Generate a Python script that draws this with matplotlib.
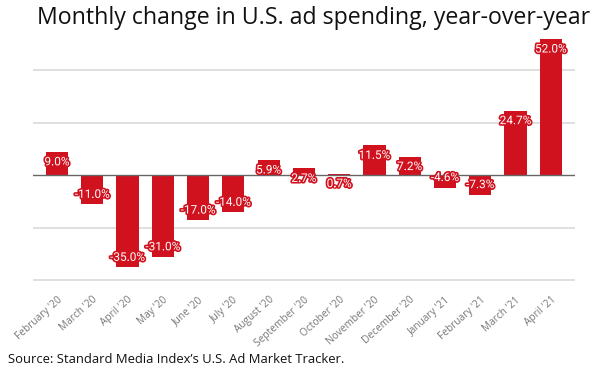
import matplotlib
matplotlib.use("Agg")
import matplotlib.pyplot as plt
import matplotlib.patheffects as pe

months = ["February '20", "March '20", "April '20", "May '20", "June '20",
          "July '20", "August '20", "September '20", "October '20",
          "November '20", "December '20", "January '21", "February '21",
          "March '21", "April '21"]
change = [9.0, -11.0, -35.0, -31.0, -17.0, -14.0, 5.9, 2.7, 0.7,
          11.5, 7.2, -4.6, -7.3, 24.7, 52.0]
grid_vals = [-40, -20, 20, 40]

RED = "#d0121f"

fig = plt.figure(figsize=(6, 3.75), dpi=100)
ax = fig.add_axes([0.055, 0.248, 0.903, 0.669])

x = list(range(len(months)))
ax.bar(x, change, width=0.63, color=RED, zorder=3)

for g in grid_vals:
    ax.axhline(g, color="#d9d9d9", lw=1.2, zorder=1)
ax.axhline(0, color="#666666", lw=1, zorder=4)

# value labels sit just inside the end of each bar
for xi, v in zip(x, change):
    off = -10 if v >= 0 else 10
    ax.annotate(f"{v:.1f}%", xy=(xi, v), xytext=(0, off),
                textcoords="offset pixels", ha="center", va="center",
                fontsize=8.5, family="Roboto", color="white", zorder=5,
                path_effects=[pe.withStroke(linewidth=2.4, foreground=RED)])

ax.set_xlim(-0.68, len(months) - 0.32)
ax.set_ylim(-40.6, 55)
ax.set_yticks([])
ax.set_xticks(x)
ax.set_xticklabels(months, rotation=42, ha="right", rotation_mode="anchor",
                   fontsize=7.3, color="#777777", family="Open Sans")
ax.tick_params(axis="x", length=0, pad=9)
for s in ax.spines.values():
    s.set_visible(False)

fig.text(0.522, 0.985, "Monthly change in U.S. ad spending, year-over-year",
         ha="center", va="top", fontsize=16.7, family="Open Sans", color="#111111")
fig.text(0.013, 0.025, "Source: Standard Media Index\u2019s U.S. Ad Market Tracker.",
         ha="left", va="bottom", fontsize=9.4, family="Open Sans", color="#111111")

fig.savefig("out.png", dpi=100)
